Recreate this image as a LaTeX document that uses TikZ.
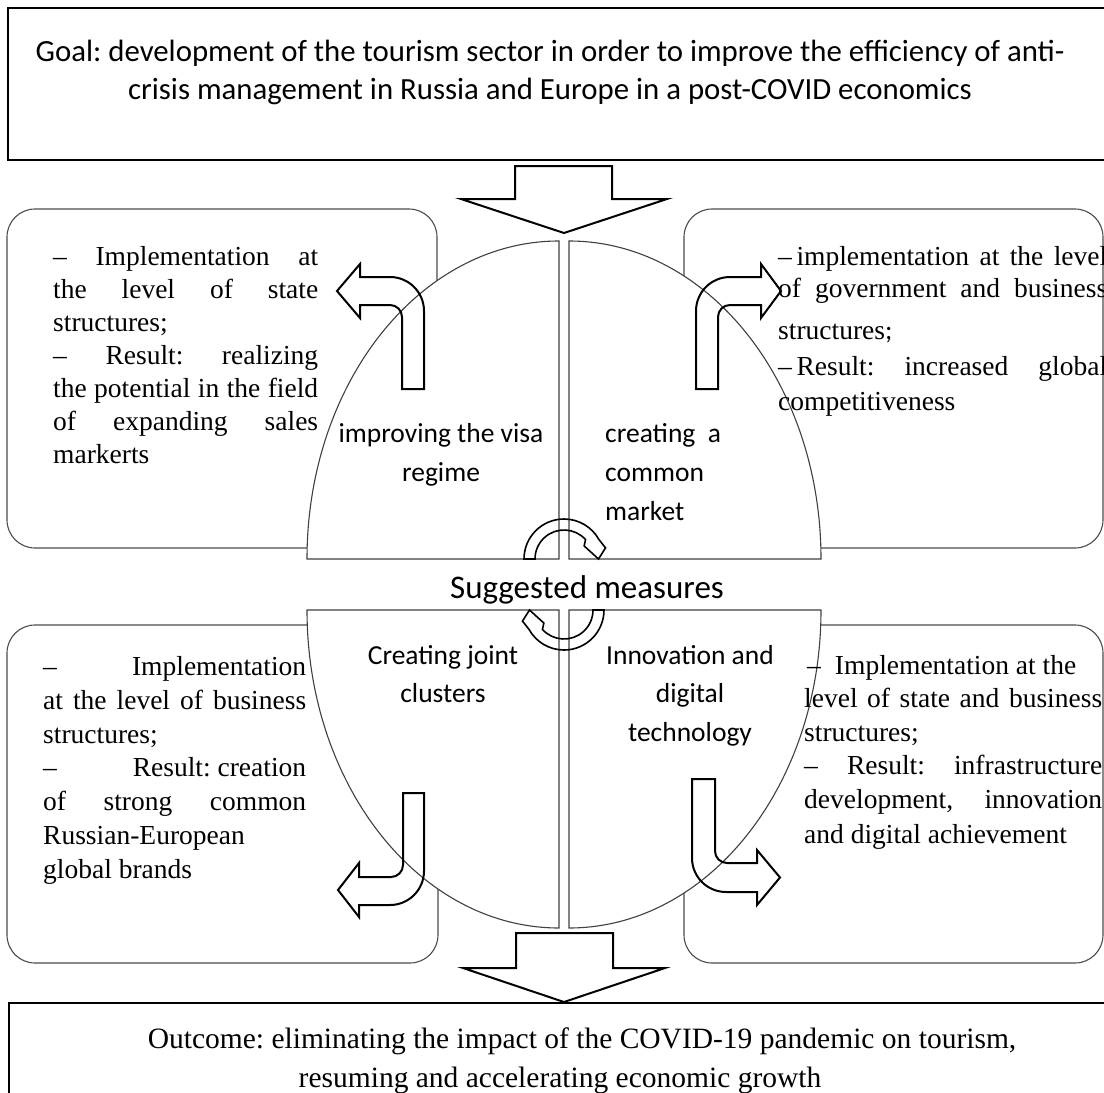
\documentclass[tikz,border=0pt]{standalone}
\usepackage{fontspec}
\setmainfont{Liberation Serif}
\newfontfamily\calibri{Carlito}
\frenchspacing
\begin{document}
\begin{tikzpicture}[x=1pt,y=-1pt,
  frame/.style={draw=black, line width=2pt, fill=white},
  panel/.style={draw=black!70, line width=1.1pt, rounded corners=28pt, fill=white},
  quarter/.style={draw=black!75, line width=1.1pt, fill=white},
  bigarrow/.style={draw=black, line width=2pt, fill=white, line join=miter},
  bentarrow/.style={draw=black, line width=2pt, line join=miter},
  ringarrow/.style={draw=black, line width=1.6pt, line join=miter},
  serif/.style={inner sep=0pt, anchor=base west, font=\fontsize{27.5}{33}\selectfont},
  sans/.style={inner sep=0pt, anchor=base, font=\calibri\fontsize{27.5}{32}\selectfont},
]
\useasboundingbox (0,0) rectangle (1104,1093);

% goal and outcome frames
\draw[frame] (8,8) rectangle (1112,160);
\draw[frame] (9,1003) rectangle (1112,1110);

% four rounded panels
\draw[panel] (7,209) rectangle (437,548);
\draw[panel] (684,209) rectangle (1103,548);
\draw[panel] (7,625) rectangle (438,963);
\draw[panel] (684,625) rectangle (1103,963);

% split ellipse: four quarters
\draw[quarter] (559,559) -- (307,559) arc[start angle=180, end angle=270, x radius=252, y radius=318] -- cycle;
\draw[quarter] (569,559) -- (569,241) arc[start angle=270, end angle=360, x radius=252, y radius=318] -- cycle;
\draw[quarter] (559,610) -- (307,610) arc[start angle=180, end angle=90, x radius=252, y radius=318] -- cycle;
\draw[quarter] (569,610) -- (821,610) arc[start angle=0, end angle=90, x radius=252, y radius=318] -- cycle;

% goal text
\node[sans, font=\calibri\fontsize{30.8}{37}\selectfont] (goal1) at (550,61) {Goal: development of the tourism sector in order to improve the efficiency of anti-};
\node[sans, font=\calibri\fontsize{30.8}{37}\selectfont] (goal2) at (550,99) {crisis management in Russia and Europe in a post-COVID economics};

% upper left panel
\node[serif] (ul1) at (53,265) {\makebox[265pt][s]{– Implementation at}};
\node[serif] (ul2) at (53,298) {\makebox[265pt][s]{the level of state}};
\node[serif] (ul3) at (53,331) {structures;};
\node[serif] (ul4) at (53,364) {\makebox[265pt][s]{– Result: realizing}};
\node[serif] (ul5) at (53,397) {\makebox[265pt][s]{the potential in the field}};
\node[serif] (ul6) at (53,430) {\makebox[265pt][s]{of expanding sales}};
\node[serif] (ul7) at (53,463) {markerts};

% upper right panel
\node[serif] (ur1) at (778,265) {\makebox[329pt][s]{–\,implementation at the level}};
\node[serif] (ur2) at (778,297) {\makebox[329pt][s]{of government and business}};
\node[serif] (ur3) at (778,339) {structures{\calibri ;}};
\node[serif] (ur4) at (778,375) {\makebox[329pt][s]{–\,Result: increased global}};
\node[serif] (ur5) at (778,410) {competitiveness};

% lower left panel
\node[serif] (ll1) at (43,675) {\makebox[263pt][s]{–\hfill Implementation}};
\node[serif] (ll2) at (43,709) {\makebox[263pt][s]{at the level of business}};
\node[serif] (ll3) at (43,743) {structures;};
\node[serif] (ll4) at (43,776) {\makebox[263pt][s]{–\hfill Result: creation}};
\node[serif] (ll5) at (43,810) {\makebox[263pt][s]{of strong common}};
\node[serif] (ll6) at (43,844) {Russian-European};
\node[serif] (ll7) at (43,878) {global brands};

% lower right panel
\node[serif] (lr1) at (807,674) {–\hspace{14pt}Implementation at the};
\node[serif] (lr2) at (804,707) {\makebox[298pt][s]{level of state and business}};
\node[serif] (lr3) at (804,741) {structures;};
\node[serif] (lr4) at (804,774) {\makebox[298pt][s]{– Result: infrastructure}};
\node[serif] (lr5) at (804,808) {\makebox[298pt][s]{development, innovation}};
\node[serif] (lr6) at (804,843) {and digital achievement};

% quarter labels
\node[sans] (visa1) at (441,442) {improving the visa};
\node[sans] (visa2) at (441,481) {regime};
\node[sans, anchor=base west] (mkt1) at (605,442) {creating\ \ a};
\node[sans, anchor=base west] (mkt2) at (605,481) {common};
\node[sans, anchor=base west] (mkt3) at (605,520) {market};
\node[sans] (clu1) at (443,664) {Creating joint};
\node[sans] (clu2) at (443,702) {clusters};
\node[sans] (inn1) at (690,664) {Innovation and};
\node[sans] (inn2) at (690,702) {digital};
\node[sans] (inn3) at (690,741) {technology};
\node[sans, font=\calibri\fontsize{33}{40}\selectfont] (mid) at (587,598) {Suggested measures};

% outcome text
\node[serif, anchor=base, font=\fontsize{29.5}{36}\selectfont] (out1) at (582,1048) {Outcome: eliminating the impact of the COVID-19 pandemic on tourism,};
\node[serif, anchor=base, font=\fontsize{29.5}{36}\selectfont] (out2) at (560,1087) {resuming and accelerating economic growth};

% bent arrows
\draw[bentarrow] (402,389) -- (424,389) -- (424,311) arc[start angle=0, end angle=-90, radius=34]
  -- (360,277) -- (360,264) -- (337,291) -- (360,318) -- (360,305) -- (390,305)
  arc[start angle=-90, end angle=0, radius=12] -- cycle;
\draw[bentarrow] (718,389) -- (696,389) -- (696,311) arc[start angle=180, end angle=270, radius=34]
  -- (761,277) -- (761,264) -- (781,291) -- (761,318) -- (761,305) -- (730,305)
  arc[start angle=270, end angle=180, radius=12] -- cycle;
\draw[bentarrow] (403,793) -- (424,793) -- (424,871) arc[start angle=0, end angle=90, radius=34]
  -- (359,905) -- (359,917) -- (338,890) -- (359,863) -- (359,877) -- (391,877)
  arc[start angle=90, end angle=0, radius=12] -- cycle;
\draw[bentarrow] (715,779) -- (692,779) -- (692,858) arc[start angle=180, end angle=90, radius=34]
  -- (757,892) -- (757,905) -- (780,877.5) -- (757,850) -- (757,863) -- (727,863)
  arc[start angle=90, end angle=180, radius=12] -- cycle;

% circular arrows at the centre
\draw[ringarrow, shift={(564,559)}] (180:40) arc[start angle=180, end angle=331, radius=40]
  -- (345:43) -- (0:34.5) -- (327:24) -- (318:29) arc[start angle=318, end angle=180, radius=29] -- cycle;
\draw[ringarrow, shift={(564,610)}] (0:40) arc[start angle=0, end angle=151, radius=40]
  -- (165:43) -- (180:34.5) -- (147:24) -- (138:29) arc[start angle=138, end angle=0, radius=29] -- cycle;

% block arrows between the levels
\draw[bigarrow] (515,166) -- (612,166) -- (612,199) -- (667,199) -- (564,233) -- (461,199) -- (515,199) -- cycle;
\draw[bigarrow] (516,933) -- (613,933) -- (613,968) -- (665,968) -- (564,1002) -- (463,968) -- (516,968) -- cycle;
\end{tikzpicture}
\end{document}
